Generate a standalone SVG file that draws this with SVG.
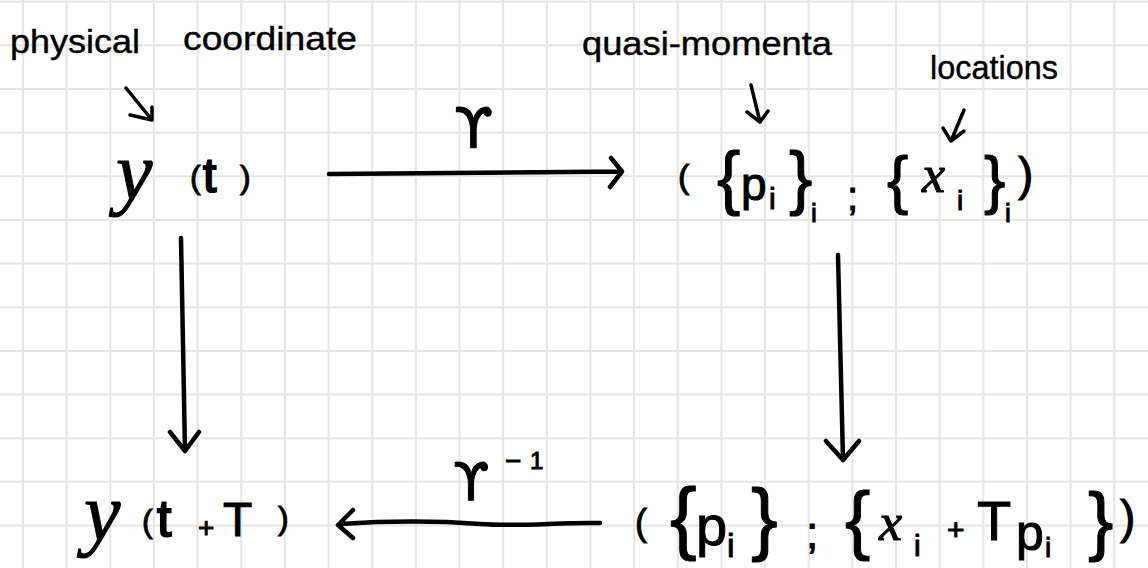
<svg xmlns="http://www.w3.org/2000/svg" width="1148" height="568" viewBox="0 0 1148 568">
<defs>
<style>
.grid{stroke:#e6e6e6;stroke-width:2;fill:none}
.lbl{font-family:"Liberation Sans","DejaVu Sans",sans-serif;font-size:33px;fill:#000;stroke:#000;stroke-width:0.4}
.m{font-family:"Liberation Sans","DejaVu Sans",sans-serif;fill:#000;stroke:#000;stroke-width:1}
.v{font-family:"Liberation Serif","DejaVu Serif",serif;font-style:italic}
.g{font-family:"DejaVu Sans",sans-serif}
.ln{stroke:#000;stroke-width:4.5;fill:none;stroke-linecap:round;stroke-linejoin:round}
.sm{stroke:#000;stroke-width:3.5;fill:none;stroke-linecap:round;stroke-linejoin:round}
</style>
</defs>
<rect width="1148" height="568" fill="#fff"/>
<path class="grid" d="M23 0V568M66.65 0V568M110.3 0V568M153.95 0V568M197.6 0V568M241.25 0V568M284.9 0V568M328.55 0V568M372.2 0V568M415.85 0V568M459.5 0V568M503.15 0V568M546.8 0V568M590.45 0V568M634.1 0V568M677.75 0V568M721.4 0V568M765.05 0V568M808.7 0V568M852.35 0V568M896 0V568M939.65 0V568M983.3 0V568M1026.95 0V568M1070.6 0V568M1114.25 0V568M0 1.7H1148M0 45.35H1148M0 89H1148M0 132.65H1148M0 176.3H1148M0 219.95H1148M0 263.6H1148M0 307.25H1148M0 350.9H1148M0 394.55H1148M0 438.2H1148M0 481.85H1148M0 525.5H1148"/>

<g id="label-physical">
<text class="lbl"><tspan x="10" y="53" textLength="130" lengthAdjust="spacingAndGlyphs">physical</tspan> <tspan x="183" y="50" textLength="174" lengthAdjust="spacingAndGlyphs">coordinate</tspan></text>
<path class="sm" d="M126 88L152 120M130 115L152 120L152 107"/>
</g>

<g id="label-quasi">
<text class="lbl" x="582" y="55" textLength="250" lengthAdjust="spacingAndGlyphs">quasi-momenta</text>
<path class="sm" d="M751 85L760 122M747 112L760 122L768 111"/>
</g>

<g id="label-locations">
<text class="lbl" x="930" y="79" textLength="128" lengthAdjust="spacingAndGlyphs">locations</text>
<path class="sm" d="M964 110L951 141M943 128L951 141L964 131"/>
</g>

<g id="node-yt">
<text class="m"><tspan class="v" x="116" y="199" font-size="82">y</tspan><tspan x="190" y="188" font-size="32">(</tspan><tspan x="203" y="192" font-size="48" stroke-width="2">t</tspan><tspan x="240" y="188" font-size="32">)</tspan></text>
</g>

<g id="node-top-tuple">
<text class="m"><tspan x="678" y="188" font-size="34">(</tspan><tspan x="717" y="201" font-size="70">{</tspan><tspan x="741" y="200" font-size="46">p</tspan><tspan x="769" y="209" font-size="30">i</tspan><tspan x="789" y="201" font-size="70">}</tspan><tspan x="811" y="222" font-size="26">i</tspan><tspan x="847" y="210" font-size="40">;</tspan><tspan x="887" y="202" font-size="64">{</tspan><tspan class="v" x="922" y="192" font-size="52">x</tspan><tspan x="957" y="210" font-size="28">i</tspan><tspan x="984" y="202" font-size="64">}</tspan><tspan x="1005" y="222" font-size="26">i</tspan><tspan x="1018" y="190" font-size="46">)</tspan></text>
</g>

<g id="node-ytT">
<text class="m"><tspan class="v" x="84" y="540" font-size="82">y</tspan><tspan x="142" y="532" font-size="32">(</tspan><tspan x="157" y="536" font-size="52" stroke-width="2">t</tspan><tspan x="198" y="537" font-size="28">+</tspan><tspan x="223" y="536" font-size="48">T</tspan><tspan x="278" y="529" font-size="32">)</tspan></text>
</g>

<g id="node-bottom-tuple">
<text class="m"><tspan x="635" y="535" font-size="36">(</tspan><tspan x="670" y="544" font-size="80">{</tspan><tspan x="696" y="545" font-size="56">p</tspan><tspan x="727" y="557" font-size="34">i</tspan><tspan x="751" y="545" font-size="80">}</tspan><tspan x="806" y="548" font-size="44">;</tspan><tspan x="845" y="545" font-size="76">{</tspan><tspan class="v" x="879" y="540" font-size="52">x</tspan><tspan x="914" y="556" font-size="30">i</tspan><tspan x="947" y="540" font-size="30">+</tspan><tspan x="977" y="540" font-size="56">T</tspan><tspan x="1016" y="550" font-size="50">p</tspan><tspan x="1045" y="557" font-size="28">i</tspan><tspan x="1088" y="546" font-size="76">}</tspan><tspan x="1120" y="533" font-size="46">)</tspan></text>
</g>

<g id="connectors">
<g id="edge-top">
<path class="ln" d="M329 174L622 171.5M611 158L622 171.5L610 187"/>
<text class="m g" x="454" y="147" font-size="56">ϒ</text>
</g>
<g id="edge-left">
<path class="ln" d="M181 238L185 451M170 432L185 451L199 432"/>
</g>
<g id="edge-right">
<path class="ln" d="M838 255L843 460M826 441L843 460L859 441"/>
</g>
<g id="edge-bottom">
<path class="ln" d="M600 523C560 522 520 527 480 524S400 520 340 524M353 510L338 525L353 538"/>
<text class="m"><tspan class="g" x="453" y="500" font-size="52">ϒ</tspan><tspan x="505" y="470" font-size="28">−</tspan><tspan x="530" y="469" font-size="24">1</tspan></text>
</g>
</g>
</svg>
